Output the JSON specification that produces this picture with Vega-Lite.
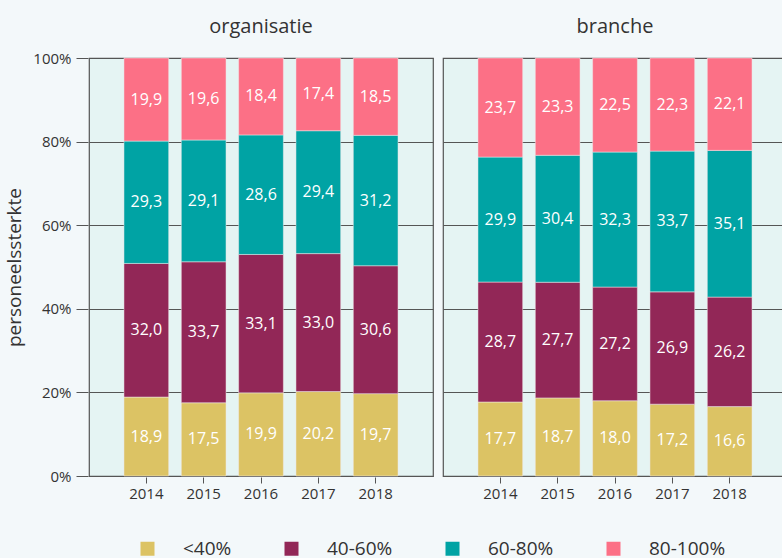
{
  "$schema": "https://vega.github.io/schema/vega-lite/v6.json",
  "background": "#f3f8fa",
  "padding": {"left": 5, "top": 17, "right": 0, "bottom": 0},
  "datasets": {
    "d": [
      {"panel": "organisatie", "year": "2014", "cat": "<40%", "value": 18.9},
      {"panel": "organisatie", "year": "2014", "cat": "40-60%", "value": 32.0},
      {"panel": "organisatie", "year": "2014", "cat": "60-80%", "value": 29.3},
      {"panel": "organisatie", "year": "2014", "cat": "80-100%", "value": 19.9},
      {"panel": "organisatie", "year": "2015", "cat": "<40%", "value": 17.5},
      {"panel": "organisatie", "year": "2015", "cat": "40-60%", "value": 33.7},
      {"panel": "organisatie", "year": "2015", "cat": "60-80%", "value": 29.1},
      {"panel": "organisatie", "year": "2015", "cat": "80-100%", "value": 19.6},
      {"panel": "organisatie", "year": "2016", "cat": "<40%", "value": 19.9},
      {"panel": "organisatie", "year": "2016", "cat": "40-60%", "value": 33.1},
      {"panel": "organisatie", "year": "2016", "cat": "60-80%", "value": 28.6},
      {"panel": "organisatie", "year": "2016", "cat": "80-100%", "value": 18.4},
      {"panel": "organisatie", "year": "2017", "cat": "<40%", "value": 20.2},
      {"panel": "organisatie", "year": "2017", "cat": "40-60%", "value": 33.0},
      {"panel": "organisatie", "year": "2017", "cat": "60-80%", "value": 29.4},
      {"panel": "organisatie", "year": "2017", "cat": "80-100%", "value": 17.4},
      {"panel": "organisatie", "year": "2018", "cat": "<40%", "value": 19.7},
      {"panel": "organisatie", "year": "2018", "cat": "40-60%", "value": 30.6},
      {"panel": "organisatie", "year": "2018", "cat": "60-80%", "value": 31.2},
      {"panel": "organisatie", "year": "2018", "cat": "80-100%", "value": 18.5},
      {"panel": "branche", "year": "2014", "cat": "<40%", "value": 17.7},
      {"panel": "branche", "year": "2014", "cat": "40-60%", "value": 28.7},
      {"panel": "branche", "year": "2014", "cat": "60-80%", "value": 29.9},
      {"panel": "branche", "year": "2014", "cat": "80-100%", "value": 23.7},
      {"panel": "branche", "year": "2015", "cat": "<40%", "value": 18.7},
      {"panel": "branche", "year": "2015", "cat": "40-60%", "value": 27.7},
      {"panel": "branche", "year": "2015", "cat": "60-80%", "value": 30.4},
      {"panel": "branche", "year": "2015", "cat": "80-100%", "value": 23.3},
      {"panel": "branche", "year": "2016", "cat": "<40%", "value": 18.0},
      {"panel": "branche", "year": "2016", "cat": "40-60%", "value": 27.2},
      {"panel": "branche", "year": "2016", "cat": "60-80%", "value": 32.3},
      {"panel": "branche", "year": "2016", "cat": "80-100%", "value": 22.5},
      {"panel": "branche", "year": "2017", "cat": "<40%", "value": 17.2},
      {"panel": "branche", "year": "2017", "cat": "40-60%", "value": 26.9},
      {"panel": "branche", "year": "2017", "cat": "60-80%", "value": 33.7},
      {"panel": "branche", "year": "2017", "cat": "80-100%", "value": 22.3},
      {"panel": "branche", "year": "2018", "cat": "<40%", "value": 16.6},
      {"panel": "branche", "year": "2018", "cat": "40-60%", "value": 26.2},
      {"panel": "branche", "year": "2018", "cat": "60-80%", "value": 35.1},
      {"panel": "branche", "year": "2018", "cat": "80-100%", "value": 22.1}
    ]
  },
  "data": {"name": "d"},
  "transform": [
    {"calculate": "indexof(['<40%','40-60%','60-80%','80-100%'], datum.cat)", "as": "ord"}
  ],
  "facet": {
    "column": {
      "field": "panel",
      "type": "nominal",
      "sort": ["organisatie", "branche"],
      "title": null,
      "header": {"labelFontSize": 20, "labelPadding": 20, "labelColor": "#333333", "labelFont": "Open Sans", "labelExpr": "datum.label + '\u00a0\u00a0\u00a0'"}
    }
  },
  "spacing": 8,
  "spec": {
    "width": 344,
    "height": 418,
    "encoding": {
      "x": {
        "field": "year",
        "type": "ordinal",
        "scale": {"paddingInner": 0.22, "paddingOuter": 0.61},
        "axis": {"title": null, "labelAngle": 0, "grid": false, "domain": false, "tickSize": 6, "labelPadding": 3}
      }
    },
    "layer": [
      {
        "mark": {"type": "bar", "stroke": "#f0e8ea", "strokeWidth": 0.5},
        "encoding": {
          "y": {
            "field": "value",
            "type": "quantitative",
            "stack": "normalize",
            "axis": {"title": "personeelssterkte", "format": ".0%", "values": [0, 0.2, 0.4, 0.6, 0.8, 1], "tickSize": 12, "labelPadding": 5, "titlePadding": 8, "domain": false}
          },
          "color": {
            "field": "cat",
            "type": "nominal",
            "sort": ["<40%", "40-60%", "60-80%", "80-100%"],
            "scale": {"domain": ["<40%", "40-60%", "60-80%", "80-100%"], "range": ["#dcc364", "#922757", "#00a3a4", "#fc7086"]},
            "legend": {
              "title": null,
              "orient": "none",
              "direction": "horizontal",
              "legendX": 49,
              "legendY": 481,
              "symbolType": "square",
              "symbolSize": 196,
              "symbolStrokeWidth": 0,
              "symbolOpacity": 1,
              "labelFontSize": 19,
              "labelOffset": 26,
              "columnPadding": 50,
              "labelColor": "#333333"
            }
          },
          "order": {"field": "ord", "type": "quantitative"}
        }
      },
      {
        "mark": {"type": "text", "color": "white", "fontSize": 16, "baseline": "middle", "font": "Open Sans"},
        "encoding": {
          "y": {"field": "value", "type": "quantitative", "stack": "normalize", "bandPosition": 0.5},
          "detail": {"field": "cat", "type": "nominal"},
          "order": {"field": "ord", "type": "quantitative"},
          "text": {"field": "value", "type": "quantitative", "format": ".1f"}
        }
      }
    ]
  },
  "config": {
    "locale": {"number": {"decimal": ",", "thousands": ".", "grouping": [3], "currency": ["€", ""]}},
    "font": "Open Sans",
    "view": {"fill": "#e5f4f3", "stroke": "#555555", "strokeWidth": 1.2},
    "axis": {
      "labelFont": "Open Sans",
      "labelFontSize": 15,
      "labelColor": "#333333",
      "tickColor": "#555555",
      "gridColor": "#555555",
      "gridOpacity": 1,
      "titleFont": "Open Sans",
      "titleFontSize": 19,
      "titleFontWeight": "normal",
      "titleColor": "#333333"
    },
    "legend": {"labelFont": "Open Sans"}
  }
}
